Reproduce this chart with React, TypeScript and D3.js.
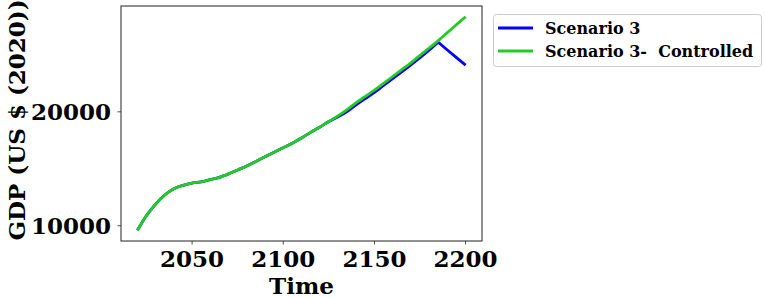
import React from "react";
import * as d3 from "d3";

const years: number[] = [2020, 2025, 2030, 2035, 2040, 2045, 2050, 2055, 2060, 2065, 2070, 2075, 2080, 2085, 2090, 2095, 2100, 2105, 2110, 2115, 2120, 2125, 2130, 2135, 2140, 2145, 2150, 2155, 2160, 2165, 2170, 2175, 2180, 2185, 2190, 2195, 2200];

const controlled: number[] = [9600, 10900, 11900, 12700, 13250, 13550, 13750, 13850, 14050, 14250, 14550, 14900, 15250, 15650, 16050, 16450, 16850, 17250, 17700, 18200, 18650, 19150, 19650, 20200, 20800, 21350, 21900, 22500, 23100, 23700, 24300, 24950, 25600, 26250, 26950, 27650, 28350];

const scenario3: number[] = [9600, 10900, 11900, 12700, 13250, 13550, 13750, 13850, 14050, 14250, 14550, 14900, 15250, 15650, 16050, 16450, 16850, 17250, 17700, 18200, 18650, 19150, 19560, 20030, 20610, 21160, 21710, 22310, 22910, 23510, 24110, 24760, 25420, 26110, 25430, 24760, 24100];

const xTicks: number[] = [2050, 2100, 2150, 2200];
const yTicks: number[] = [10000, 20000];

const seriesNames: string[] = ["Scenario 3", "Scenario 3-  Controlled"];
const seriesColors: string[] = ["#0000ff", "#22cc22"];

export default function App() {
  const W = 765, H = 298;
  const L = 121, R = 482, T = 6, B = 241;
  const font = "'DejaVu Serif', serif";

  const xMin = d3.min(years)!, xMax = d3.max(years)!;
  const xPad = (xMax - xMin) * 0.05;
  const allY = [...controlled, ...scenario3];
  const yMin = d3.min(allY)!, yMax = d3.max(allY)!;
  const yPad = (yMax - yMin) * 0.05;

  const x = d3.scaleLinear().domain([xMin - xPad, xMax + xPad]).range([L, R]);
  const y = d3.scaleLinear().domain([yMin - yPad, yMax + yPad]).range([B, T]);

  type P = [number, number];
  const smooth = d3
    .line<P>()
    .x((d) => x(d[0]))
    .y((d) => y(d[1]))
    .curve(d3.curveMonotoneX);
  const straight = d3
    .line<P>()
    .x((d) => x(d[0]))
    .y((d) => y(d[1]))
    .curve(d3.curveLinear);

  const bluePts: P[] = years.map((yr, i) => [yr, scenario3[i]]);
  const peak = d3.maxIndex(scenario3);
  const blueRise = bluePts.slice(0, peak + 1);
  const blueFall = bluePts.slice(peak);
  const greenPts: P[] = years.map((yr, i) => [yr, controlled[i]]);

  return (
    <svg width={W} height={H} style={{ position: "absolute", left: 0, top: 0 }} fontFamily={font}>
      <rect x={0} y={0} width={W} height={H} fill="white" />
      <path d={(smooth(blueRise) || "") + (straight(blueFall) || "").replace(/^M/, "L")} fill="none" stroke={seriesColors[0]} strokeWidth={2.8} strokeLinejoin="round" />
      <path d={smooth(greenPts) || ""} fill="none" stroke={seriesColors[1]} strokeWidth={2.8} strokeLinejoin="round" />
      <rect x={L} y={T} width={R - L} height={B - T} fill="none" stroke="#222" strokeWidth={1} />
      {xTicks.map((t) => (
        <g key={t}>
          <line x1={x(t)} x2={x(t)} y1={B} y2={B + 3.5} stroke="#222" strokeWidth={0.8} />
          <text x={x(t)} y={266.7} textAnchor="middle" fontSize={23} fontWeight="bold" fill="#000">
            {t}
          </text>
        </g>
      ))}
      {yTicks.map((t) => (
        <g key={t}>
          <line x1={L - 3.5} x2={L} y1={y(t)} y2={y(t)} stroke="#222" strokeWidth={0.8} />
          <text x={111} y={y(t) + 8.4} textAnchor="end" fontSize={23} fontWeight="bold" fill="#000">
            {t}
          </text>
        </g>
      ))}
      <text x={(L + R) / 2} y={293.5} textAnchor="middle" fontSize={23} fontWeight="bold" fill="#000">
        Time
      </text>
      <text transform={`translate(24.5,120) rotate(-90)`} textAnchor="middle" fontSize={23} fontWeight="bold" fill="#000">
        GDP (US $ (2020))
      </text>
      <rect x={493.5} y={14.5} width={268} height={52} rx={3} fill="white" stroke="#cccccc" strokeWidth={1} />
      {seriesNames.map((n, i) => (
        <g key={n}>
          <line x1={498} x2={533} y1={28 + i * 23} y2={28 + i * 23} stroke={seriesColors[i]} strokeWidth={2.8} />
          <text x={545} y={33.5 + i * 23} fontSize={16} fontWeight="bold" fill="#000" style={{ whiteSpace: "pre" }}>
            {n}
          </text>
        </g>
      ))}
    </svg>
  );
}
